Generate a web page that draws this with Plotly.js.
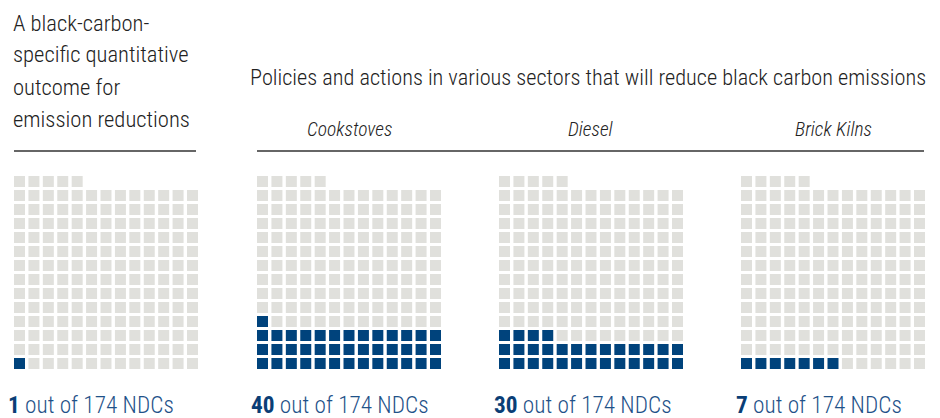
<!DOCTYPE html>
<html>
<head>
<meta charset="utf-8">
<script src="https://cdn.plot.ly/plotly-3.0.1.min.js"></script>
<style>
html,body{margin:0;padding:0;background:#fff;}
#chart{width:940px;height:418px;}
</style>
</head>
<body>
<div id="chart"></div>
<script>
// ---- data ----
const sectorLabels = ["", "Cookstoves", "Diesel", "Brick Kilns"];
const ndcCounts = [1, 40, 30, 7];
const totalNDCs = 174;
const gridColumns = 13;
const leftTitleLines = ["A black-carbon-", "specific quantitative", "outcome for", "emission reductions"];
const groupTitle = "Policies and actions in various sectors that will reduce black carbon emissions";

// ---- layout constants (pixels) ----
const W = 940, H = 418;
const panelLeft = [14, 257, 499, 741];
const labelLeft = [9, 252, 495, 737];
const panelWidth = 184;
const gridTop = 176, gridBottom = 369;
const cell = 11;
const FONT = "'Roboto Condensed', Roboto, sans-serif";
const GRAY = "#e0e0dc", BLUE = "#00437c";

const px = v => v / W;
const py = v => 1 - v / H;

const traces = [];
const layout = {
  width: W, height: H,
  margin: {l: 0, r: 0, t: 0, b: 0},
  paper_bgcolor: "#fff", plot_bgcolor: "rgba(0,0,0,0)",
  showlegend: false,
  annotations: [], shapes: []
};

const nRows = Math.ceil(totalNDCs / gridColumns);
const xPad = (cell / 2) / ((panelWidth - cell) / (gridColumns - 1));
const yPad = (cell / 2) / ((gridBottom - gridTop - cell) / (nRows - 1));

ndcCounts.forEach((count, p) => {
  const idx = p === 0 ? "" : String(p + 1);
  const gx = [], gy = [], bx = [], by = [];
  for (let i = 0; i < totalNDCs; i++) {
    const col = i % gridColumns, row = Math.floor(i / gridColumns);
    if (i < count) { bx.push(col); by.push(row); } else { gx.push(col); gy.push(row); }
  }
  const common = {type: "scatter", mode: "markers", xaxis: "x" + idx, yaxis: "y" + idx, hoverinfo: "skip"};
  traces.push(Object.assign({}, common, {x: gx, y: gy, marker: {symbol: "square", size: cell, color: GRAY, line: {width: 0}}}));
  traces.push(Object.assign({}, common, {x: bx, y: by, marker: {symbol: "square", size: cell, color: BLUE, line: {width: 0}}}));
  layout["xaxis" + idx] = {
    domain: [px(panelLeft[p]), px(panelLeft[p] + panelWidth)],
    range: [-xPad, gridColumns - 1 + xPad], visible: false, fixedrange: true,
    anchor: "y" + idx
  };
  layout["yaxis" + idx] = {
    domain: [py(gridBottom), py(gridTop)],
    range: [-yPad, nRows - 1 + yPad], visible: false, fixedrange: true,
    anchor: "x" + idx
  };
  layout.annotations.push({
    xref: "paper", yref: "paper", x: px(labelLeft[p] - 3.5), y: py(405),
    xanchor: "left", yanchor: "middle", showarrow: false,
    text: "<span style='font-weight:700;color:#0a3e76'>" + count + "</span> out of " + totalNDCs + " NDCs",
    font: {family: FONT, size: 23.3, color: "#1f5289", weight: 300}
  });
  if (sectorLabels[p]) {
    layout.annotations.push({
      xref: "paper", yref: "paper", x: px(panelLeft[p] + panelWidth / 2), y: py(130),
      xanchor: "center", yanchor: "middle", showarrow: false,
      text: "<i>" + sectorLabels[p] + "</i>",
      font: {family: FONT, size: 19.5, color: "#222", weight: 300}
    });
  }
});

const lineY = [23, 55, 87, 119];
leftTitleLines.forEach((t, i) => {
  layout.annotations.push({
    xref: "paper", yref: "paper", x: px(11), y: py(lineY[i]),
    xanchor: "left", yanchor: "middle", showarrow: false,
    text: t, font: {family: FONT, size: 22.6, color: "#222", weight: 300}
  });
});
layout.annotations.push({
  xref: "paper", yref: "paper", x: px(588), y: py(77),
  xanchor: "center", yanchor: "middle", showarrow: false,
  text: groupTitle, font: {family: FONT, size: 22.3, color: "#222", weight: 300}
});
layout.shapes.push({type: "line", xref: "paper", yref: "paper", x0: px(14), x1: px(196), y0: py(151), y1: py(151), line: {color: "#333", width: 1.5}});
layout.shapes.push({type: "line", xref: "paper", yref: "paper", x0: px(257), x1: px(924), y0: py(151), y1: py(151), line: {color: "#333", width: 1.5}});

Plotly.newPlot("chart", traces, layout, {displayModeBar: false, staticPlot: true});
</script>
</body>
</html>
